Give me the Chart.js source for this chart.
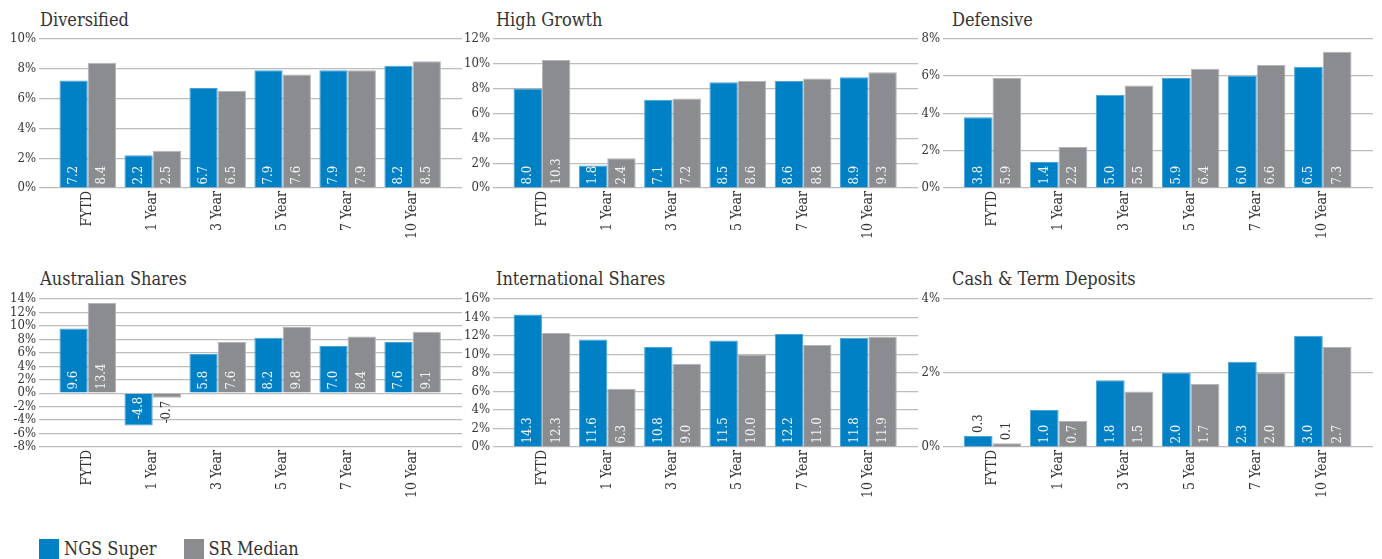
<!DOCTYPE html>
<html>
<head>
<meta charset="utf-8">
<script src="https://cdn.jsdelivr.net/npm/chart.js@4.4.0/dist/chart.umd.min.js"></script>
<style>
  body { margin: 0; background: #fff; width: 1382px; height: 559px; position: relative; overflow: hidden;
         font-family: 'DejaVu Serif Condensed', 'DejaVu Serif', serif; color: #333; }
  canvas { position: absolute; }
  .title { position: absolute; font-size: 18px; line-height: 18px; white-space: nowrap; color: #333; }
  .legend { position: absolute; left: 39px; top: 538px; font-size: 18px; display: flex; align-items: center; }
  .legend span.box { display: inline-block; width: 20px; height: 20px; margin-right: 5px; }
  .legend span.txt { margin-right: 27px; }
</style>
</head>
<body>

<div class="title" style="left:40px; top:11px">Diversified</div>
<div class="title" style="left:496px; top:11px">High Growth</div>
<div class="title" style="left:952px; top:11px">Defensive</div>
<div class="title" style="left:40px; top:270px">Australian Shares</div>
<div class="title" style="left:496px; top:270px">International Shares</div>
<div class="title" style="left:952px; top:270px">Cash &amp; Term Deposits</div>

<canvas id="c1"></canvas>
<canvas id="c2"></canvas>
<canvas id="c3"></canvas>
<canvas id="c4"></canvas>
<canvas id="c5"></canvas>
<canvas id="c6"></canvas>

<div class="legend">
  <span class="box" style="background:#0081c6"></span><span class="txt">NGS Super</span>
  <span class="box" style="background:#8b8c90"></span><span class="txt">SR Median</span>
</div>

<script>
// categories and values
const categories = ['FYTD', '1 Year', '3 Year', '5 Year', '7 Year', '10 Year'];
const seriesNames = ['NGS Super', 'SR Median'];

const diversifiedNgs = [7.2, 2.2, 6.7, 7.9, 7.9, 8.2];
const diversifiedSr  = [8.4, 2.5, 6.5, 7.6, 7.9, 8.5];
const highGrowthNgs  = [8.0, 1.8, 7.1, 8.5, 8.6, 8.9];
const highGrowthSr   = [10.3, 2.4, 7.2, 8.6, 8.8, 9.3];
const defensiveNgs   = [3.8, 1.4, 5.0, 5.9, 6.0, 6.5];
const defensiveSr    = [5.9, 2.2, 5.5, 6.4, 6.6, 7.3];
const ausSharesNgs   = [9.6, -4.8, 5.8, 8.2, 7.0, 7.6];
const ausSharesSr    = [13.4, -0.7, 7.6, 9.8, 8.4, 9.1];
const intSharesNgs   = [14.3, 11.6, 10.8, 11.5, 12.2, 11.8];
const intSharesSr    = [12.3, 6.3, 9.0, 10.0, 11.0, 11.9];
const cashNgs        = [0.3, 1.0, 1.8, 2.0, 2.3, 3.0];
const cashSr         = [0.1, 0.7, 1.5, 1.7, 2.0, 2.7];

// y axis ranges [min, max, step], ticks shown as '%'
const diversifiedTicks = [0, 10, 2];
const highGrowthTicks  = [0, 12, 2];
const defensiveTicks   = [0, 8, 2];
const ausSharesTicks   = [-8, 14, 2];
const intSharesTicks   = [0, 16, 2];
const cashTicks        = [0, 4, 2];

const BLUE = '#0081c6';
const GREY = '#8b8c90';
const FONT = "'DejaVu Serif Condensed', 'DejaVu Serif', serif";

Chart.defaults.font.family = FONT;
Chart.defaults.color = '#333';

// value labels written along the bars
const barLabels = {
  id: 'barLabels',
  afterDatasetsDraw(chart) {
    const ctx = chart.ctx;
    ctx.save();
    ctx.font = '13px ' + FONT;
    ctx.textBaseline = 'middle';
    chart.data.datasets.forEach((ds, di) => {
      chart.getDatasetMeta(di).data.forEach((bar, i) => {
        const v = ds.data[i].y;
        const txt = v.toFixed(1);
        const w = ctx.measureText(txt).width;
        const p = bar.getProps(['x', 'y', 'base'], true);
        const h = Math.abs(p.base - p.y);
        const inside = h > w + 3;
        let ay, align;
        if (v >= 0) {
          ay = inside ? p.base - 3 : p.y - 3;
          align = 'left';
        } else {
          ay = inside ? p.base + 3 : p.y + 3;
          align = 'right';
        }
        ctx.save();
        ctx.translate(p.x, ay);
        ctx.rotate(-Math.PI / 2);
        ctx.textAlign = align;
        ctx.fillStyle = inside ? '#f4f4f4' : '#333';
        ctx.fillText(txt, 0, 0);
        ctx.restore();
      });
    });
    ctx.restore();
  }
};

function makeChart(id, box, ngs, sr, ticks) {
  const canvas = document.getElementById(id);
  canvas.width = box.w;
  canvas.height = box.h;
  canvas.style.left = box.left + 'px';
  canvas.style.top = box.top + 'px';
  return new Chart(canvas, {
    type: 'bar',
    data: {
      datasets: [
        { label: seriesNames[0], data: ngs.map((v, i) => ({ x: i, y: v })),
          backgroundColor: BLUE, borderColor: '#4aa3d8', borderWidth: 1 },
        { label: seriesNames[1], data: sr.map((v, i) => ({ x: i, y: v })),
          backgroundColor: GREY, borderColor: '#b3b4b7', borderWidth: 1 }
      ]
    },
    options: {
      responsive: false,
      animation: false,
      events: [],
      layout: { padding: { top: 10, right: box.padRight, bottom: 0, left: 0 } },
      datasets: { bar: { categoryPercentage: 0.87, barPercentage: 1.0 } },
      plugins: { legend: { display: false }, tooltip: { enabled: false } },
      scales: {
        x: {
          type: 'linear',
          offset: false,
          min: -0.75,
          max: 5.76,
          grid: { display: false, drawTicks: false },
          border: { display: false },
          afterFit: s => { s.height = 60; },
          ticks: {
            stepSize: 1,
            includeBounds: false,
            autoSkip: false,
            maxRotation: 90,
            minRotation: 90,
            padding: 3,
            color: '#333',
            font: { size: 14 },
            callback: v => categories[v]
          }
        },
        y: {
          min: ticks[0],
          max: ticks[1],
          grid: { color: '#bdbdbd', lineWidth: 1.2, drawTicks: false },
          border: { display: false },
          afterFit: s => { s.width = box.yw; },
          ticks: {
            stepSize: ticks[2],
            autoSkip: false,
            padding: 3,
            color: '#333',
            font: { size: 13 },
            callback: v => v + '%'
          }
        }
      }
    },
    plugins: [barLabels]
  });
}

const col1 = { left: 0, w: 464, yw: 39, padRight: 2 };
const col2 = { left: 462, w: 456, yw: 31, padRight: 0 };
const col3 = { left: 918, w: 464, yw: 25, padRight: 9 };
const row1 = { top: 28, h: 220 };
const row2 = { top: 288, h: 219 };
const box = (c, r) => Object.assign({}, c, r);

makeChart('c1', box(col1, row1), diversifiedNgs, diversifiedSr, diversifiedTicks);
makeChart('c2', box(col2, row1), highGrowthNgs, highGrowthSr, highGrowthTicks);
makeChart('c3', box(col3, row1), defensiveNgs, defensiveSr, defensiveTicks);
makeChart('c4', box(col1, row2), ausSharesNgs, ausSharesSr, ausSharesTicks);
makeChart('c5', box(col2, row2), intSharesNgs, intSharesSr, intSharesTicks);
makeChart('c6', box(col3, row2), cashNgs, cashSr, cashTicks);
</script>
</body>
</html>
